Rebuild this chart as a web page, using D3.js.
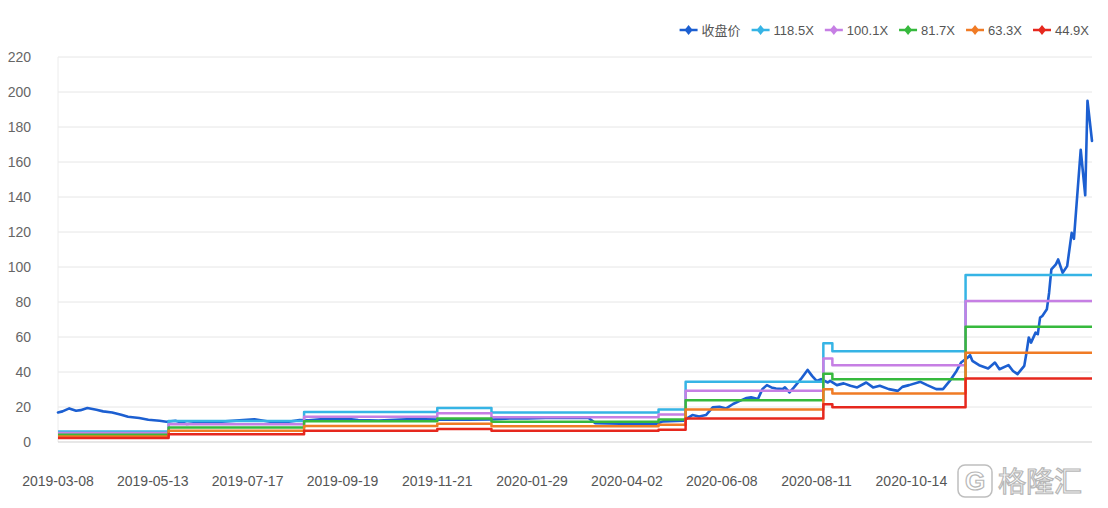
<!DOCTYPE html>
<html><head><meta charset="utf-8">
<script src="https://cdn.jsdelivr.net/npm/d3@7"></script>
<style>
html,body{margin:0;padding:0;background:#fff;}
svg{display:block;font-family:"Liberation Sans","DejaVu Sans",sans-serif;}
</style></head>
<body>
<svg id="chart" width="1108" height="508"></svg>
<script>
// ---------- data ----------
const tickLabels = ["2019-03-08","2019-05-13","2019-07-17","2019-09-19","2019-11-21","2020-01-29","2020-04-02","2020-06-08","2020-08-11","2020-10-14"];
const tickEvery = 42;          // trading days between labels
const lastIndex = 458;         // last trading-day index
const yTicks = [0,20,40,60,80,100,120,140,160,180,200,220];

const legendNames = ["收盘价","118.5X","100.1X","81.7X","63.3X","44.9X"];
const colors = ["#1c5fd1","#36b4e5","#c67fe4","#36b93d","#f07b25","#e6281e"];

// closing price: trading-day index / value
const priceIdx = [0,2,5,8,10,13,17,20,24,28,31,36,40,45,48,52,57,61,67,71,82,87,94,99,107,111,119,126,133,142,157,168,182,192,201,208,216,227,235,238,249,265,268,277,281,284,287,290,293,296,299,302,305,307,310,312,314,316,318,321,322,324,326,329,332,334,336,338,341,342,345,348,351,354,358,361,364,368,372,374,377,382,385,389,392,395,398,400,403,404,405,408,412,415,417,421,423,425,428,429,430,431,433,434,435,436,438,439,440,442,443,445,447,449,450,452,453,455,456,458];
const priceVal = [16.9,17.5,19.2,17.9,18.2,19.4,18.4,17.5,16.9,15.6,14.4,13.7,12.7,12.1,11.6,12.1,10.3,10.8,11.2,11.5,12.5,13.0,11.6,11.0,12.5,12.4,13.3,13.5,12.6,12.3,13.1,12.8,12.7,12.9,13.5,13.5,13.7,13.8,13.7,10.8,10.5,10.4,11.8,12.2,15.4,14.6,15.4,19.8,20.1,19.2,21.7,23.5,25.1,25.5,24.5,30.2,32.5,31.2,30.6,30.2,31.2,28.3,31.2,35.9,41.2,37.8,34.9,35.9,34.0,34.9,32.5,33.5,32.1,31.2,34.0,31.2,32.1,30.2,29.2,31.5,32.5,34.4,32.5,30.2,30.2,34.9,40.6,45.4,48.3,49.6,46.4,43.9,42.0,45.4,41.6,43.9,40.6,38.8,43.5,51.1,59.7,56.8,62.5,61.6,71.1,72.0,75.8,85.3,98.6,101.5,104.3,96.7,100.5,119.5,116.1,150.0,167.0,141.0,195.0,172.0];

// PE-band steps: start index of each EPS period and band values
const bandStarts = [0,49,109,168,192,266,278,339,343,402];
const band1185 = [6.0,12.0,17.2,19.5,16.8,18.6,34.4,56.5,51.9,95.4];
const band1001 = [5.1,10.1,14.5,16.5,14.2,15.7,29.3,47.7,43.8,80.6];
const band817  = [4.1,8.3,11.9,13.4,11.6,12.8,23.9,39.0,35.8,65.8];
const band633  = [3.2,6.4,9.2,10.4,9.0,9.9,18.6,30.2,27.7,51.0];
const band449  = [2.3,4.5,6.5,7.4,6.4,7.0,13.4,21.6,19.9,36.3];

// ---------- chart ----------
const svg = d3.select("#chart");
const x = d3.scaleLinear().domain([0,lastIndex]).range([58,1092]);
const y = d3.scaleLinear().domain([0,220]).range([442,57]);

// grid
svg.append("g").selectAll("line").data(yTicks.filter(d=>d>0)).join("line")
  .attr("x1",x(0)).attr("x2",x(lastIndex))
  .attr("y1",d=>y(d)).attr("y2",d=>y(d))
  .attr("stroke","#e6e6e6").attr("stroke-width",1);
svg.append("line").attr("x1",x(0)).attr("x2",x(0)).attr("y1",y(220)).attr("y2",y(0))
  .attr("stroke","#ececec");
svg.append("line").attr("x1",x(0)).attr("x2",x(lastIndex)).attr("y1",y(0)).attr("y2",y(0))
  .attr("stroke","#cfcfcf").attr("stroke-width",1.2);

// y labels
svg.append("g").selectAll("text").data(yTicks).join("text")
  .attr("x",31).attr("y",d=>y(d)).attr("dy","0.35em").attr("text-anchor","end")
  .attr("font-size",14).attr("fill","#666").text(d=>d);

// x labels
svg.append("g").selectAll("text").data(tickLabels).join("text")
  .attr("x",(d,i)=>x(i*tickEvery)).attr("y",486).attr("text-anchor","middle")
  .attr("font-size",14).attr("fill","#555").text(d=>d);

// price line
const priceData = priceIdx.map((d,i)=>[d,priceVal[i]]);
svg.append("path").datum(priceData)
  .attr("fill","none").attr("stroke",colors[0]).attr("stroke-width",2.6)
  .attr("stroke-linejoin","round").attr("stroke-linecap","round")
  .attr("d",d3.line().x(d=>x(d[0])).y(d=>y(d[1])));

// bands
const bands = [band1185,band1001,band817,band633,band449];
const stepLine = d3.line().x(d=>x(d[0])).y(d=>y(d[1])).curve(d3.curveStepAfter);
bands.forEach((vals,k)=>{
  const pts = bandStarts.map((s,i)=>[s,vals[i]]);
  pts.push([lastIndex, vals[vals.length-1]]);
  svg.append("path").datum(pts)
    .attr("fill","none").attr("stroke",colors[k+1]).attr("stroke-width",2.5)
    .attr("stroke-linejoin","round")
    .attr("d",stepLine);
});

// legend
const lg = svg.append("g");
const items = [];
legendNames.forEach((name,i)=>{
  const g = lg.append("g");
  g.append("line").attr("x1",0).attr("x2",18).attr("y1",0).attr("y2",0)
    .attr("stroke",colors[i]).attr("stroke-width",2.5);
  g.append("path").attr("d","M9,-5 L13,0 L9,5 L5,0 Z").attr("fill",colors[i]);
  const t = g.append("text").attr("x",22).attr("y",0).attr("dy","0.35em")
    .attr("font-size",13).attr("fill","#555")
    .attr("font-family", i===0 ? "'Noto Sans CJK SC',sans-serif" : null)
    .text(name);
  const w = t.node().getComputedTextLength();
  items.push({g, w});
});
let total = 0;
items.forEach((it,i)=>{ it.off = total; total += 22 + it.w + (i<items.length-1 ? 11 : 0); });
const startX = 1089 - total;
items.forEach(it=> it.g.attr("transform",`translate(${startX+it.off},30)`));

// watermark
const wm = svg.append("g").attr("opacity",0.9);
wm.append("rect").attr("x",958).attr("y",465).attr("width",34).attr("height",32).attr("rx",7)
  .attr("fill","#fff").attr("stroke","#b8b8b8").attr("stroke-width",1.5);
wm.append("text").attr("x",975).attr("y",490).attr("text-anchor","middle")
  .attr("font-size",26).attr("font-weight","bold").attr("fill","#fff")
  .attr("stroke","#b0b0b0").attr("stroke-width",1.2).text("G");
wm.append("text").attr("x",998).attr("y",492)
  .attr("font-size",28).attr("font-family","'Noto Sans CJK SC',sans-serif")
  .attr("fill","#fff").attr("stroke","#b0b0b0").attr("stroke-width",1.2).text("格隆汇");
</script>
</body></html>
